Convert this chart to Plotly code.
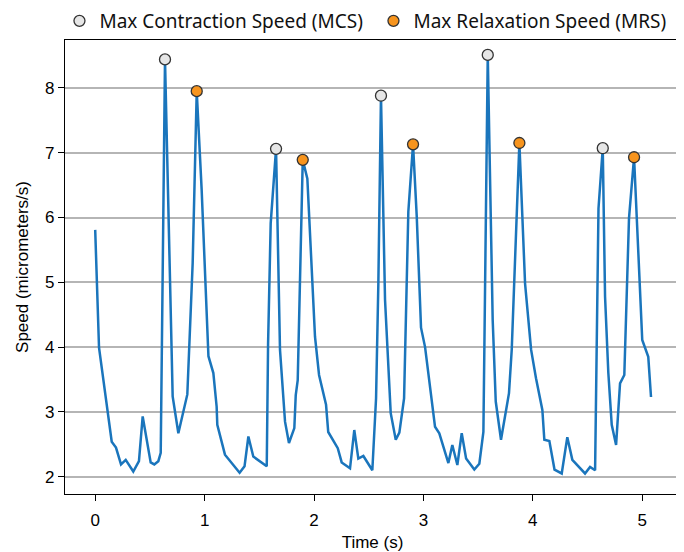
import plotly.graph_objects as go

time_s = [0, 0.035, 0.151, 0.19, 0.236, 0.279, 0.348, 0.40, 0.434, 0.507, 0.54, 0.577, 0.599,
          0.638, 0.708, 0.76, 0.842, 0.891, 0.928, 0.973, 1.035, 1.08, 1.11, 1.116, 1.186, 1.32,
          1.365, 1.40, 1.445, 1.568, 1.58, 1.604, 1.653, 1.689, 1.735, 1.771, 1.82, 1.833, 1.851,
          1.897, 1.939, 2.009, 2.046, 2.11, 2.13, 2.217, 2.253, 2.329, 2.368, 2.405, 2.451, 2.533,
          2.567, 2.588, 2.612, 2.649, 2.701, 2.747, 2.78, 2.823, 2.862, 2.905, 2.939, 2.978, 3.015,
          3.106, 3.145, 3.228, 3.264, 3.31, 3.35, 3.39, 3.465, 3.511, 3.548, 3.588, 3.633, 3.661,
          3.709, 3.782, 3.807, 3.877, 3.929, 3.984, 4.029, 4.087, 4.105, 4.151, 4.198, 4.264,
          4.315, 4.361, 4.477, 4.523, 4.569, 4.60, 4.639, 4.66, 4.69, 4.721, 4.761, 4.797, 4.836,
          4.879, 4.925, 5.0, 5.055, 5.08]
speed = [5.81, 3.99, 2.54, 2.45, 2.19, 2.26, 2.08, 2.24, 2.93, 2.22, 2.19, 2.24, 2.37,
         8.44, 3.24, 2.67, 3.27, 5.3, 7.95, 6.43, 3.86, 3.6, 3.08, 2.80, 2.34, 2.06,
         2.16, 2.62, 2.31, 2.16, 4.04, 5.91, 7.06, 3.96, 2.85, 2.52, 2.75, 3.26, 3.49,
         6.89, 6.6, 4.16, 3.57, 3.11, 2.69, 2.44, 2.22, 2.13, 2.72, 2.28, 2.32, 2.1,
         3.21, 4.98, 7.88, 4.73, 2.98, 2.57, 2.68, 3.21, 6.09, 7.13, 6.01, 4.30, 4.0,
         2.77, 2.67, 2.21, 2.49, 2.18, 2.67, 2.28, 2.11, 2.2, 2.69, 8.51, 4.42, 3.16,
         2.57, 3.29, 3.96, 7.15, 4.98, 3.96, 3.52, 3.03, 2.57, 2.55, 2.11, 2.05,
         2.61, 2.26, 2.05, 2.15, 2.10, 6.14, 7.07, 4.78, 3.6, 2.80, 2.49, 3.44, 3.57,
         5.99, 6.93, 4.11, 3.85, 3.23]

mcs_t = [0.638, 1.653, 2.612, 3.588, 4.639]
mcs_v = [8.44, 7.06, 7.88, 8.51, 7.07]
mrs_t = [0.928, 1.897, 2.905, 3.877, 4.925]
mrs_v = [7.95, 6.89, 7.13, 7.15, 6.93]

x_ticks = [0, 1, 2, 3, 4, 5]
y_ticks = [2, 3, 4, 5, 6, 7, 8]

fig = go.Figure()
fig.add_trace(go.Scatter(x=time_s, y=speed, mode="lines",
                         line=dict(color="#1a75bc", width=2.5), showlegend=False))
fig.add_trace(go.Scatter(x=mcs_t, y=mcs_v, mode="markers", name="Max Contraction Speed (MCS)",
                         marker=dict(size=11, color="#e6e6e6", line=dict(color="#333333", width=1.3))))
fig.add_trace(go.Scatter(x=mrs_t, y=mrs_v, mode="markers", name="Max Relaxation Speed (MRS)",
                         marker=dict(size=11, color="#f7941d", line=dict(color="#333333", width=1.3))))

fig.update_layout(
    width=676, height=544,
    margin=dict(l=57, r=4, t=32, b=58, autoexpand=False),
    paper_bgcolor="white", plot_bgcolor="white",
    font=dict(family="Liberation Sans, Arial, sans-serif", color="black", size=17),
    legend=dict(orientation="h", x=-0.009, y=1.0, xanchor="left", yanchor="bottom",
                font=dict(family="Noto Sans", size=19, color="#111111"),
                itemwidth=30, entrywidth=269, bgcolor="rgba(0,0,0,0)"),
    xaxis=dict(range=[-0.276, 5.345], tickvals=x_ticks, showgrid=False, zeroline=False,
               automargin=False,
               showline=True, linecolor="black", linewidth=1.3, mirror=True,
               ticks="outside", ticklen=6, tickcolor="black", ticklabelstandoff=4,
               title=dict(text="Time (s)", font=dict(size=17), standoff=8)),
    yaxis=dict(range=[1.733, 8.74], tickvals=y_ticks, showgrid=True, gridcolor="#b5b5b5",
               gridwidth=1.5, zeroline=False, automargin=False,
               showline=True, linecolor="black", linewidth=1.3, mirror=True,
               ticks="outside", ticklen=6, tickcolor="black",
               title=dict(text="Speed (micrometers/s)", font=dict(size=17), standoff=12)),
)

fig.write_html("out.html")
